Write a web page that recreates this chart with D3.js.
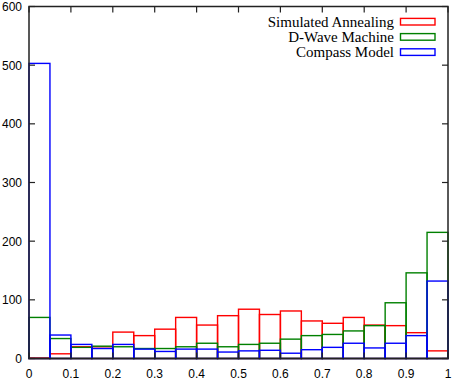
<!DOCTYPE html>
<html>
<head>
<meta charset="utf-8">
<script src="https://cdn.jsdelivr.net/npm/d3@7"></script>
<style>
  body { margin: 0; background: #fff; }
  svg { display: block; }
</style>
</head>
<body>
<div id="chart"></div>
<script>
// bin edges: 20 bins of width 0.05 from 0 to 1
const binStarts = [0, 0.05, 0.1, 0.15, 0.2, 0.25, 0.3, 0.35, 0.4, 0.45,
                   0.5, 0.55, 0.6, 0.65, 0.7, 0.75, 0.8, 0.85, 0.9, 0.95];
const binWidth = 0.05;

const seriesNames = ['Simulated Annealing', 'D-Wave Machine', 'Compass Model'];
const annealing = [1, 8, 20, 20, 45, 39, 50, 70, 57, 73, 84, 75, 81, 64, 60, 70, 57, 56, 44, 13];
const dwave     = [70, 34, 19, 21, 20, 17, 17, 20, 26, 20, 24, 26, 33, 39, 41, 47, 56, 95, 146, 215];
const compass   = [503, 40, 24, 17, 24, 16, 12, 16, 16, 11, 13, 14, 9, 15, 19, 26, 18, 26, 39, 132];

const xTicks = [0, 0.1, 0.2, 0.3, 0.4, 0.5, 0.6, 0.7, 0.8, 0.9, 1];
const yTicks = [0, 100, 200, 300, 400, 500, 600];

const colors = ['#ff0000', '#008000', '#0000ff'];

const width = 454, height = 380;
const margin = { top: 6.5, right: 6, bottom: 21.5, left: 29 };
const innerW = width - margin.left - margin.right;
const innerH = height - margin.top - margin.bottom;

const svg = d3.select('#chart').append('svg')
  .attr('width', width).attr('height', height);

const g = svg.append('g').attr('transform', `translate(${margin.left},${margin.top})`);

const x = d3.scaleLinear().domain([0, 1]).range([0, innerW]);
const y = d3.scaleLinear().domain([0, 600]).range([innerH, 0]);

// bars: outlined boxes, drawn in legend order so blue ends on top
[annealing, dwave, compass].forEach((vals, si) => {
  g.append('g').selectAll('rect')
    .data(vals.map((v, i) => ({ x0: binStarts[i], v })))
    .join('rect')
    .attr('x', (d) => x(d.x0))
    .attr('y', (d) => y(d.v))
    .attr('width', x(binWidth) - x(0))
    .attr('height', (d) => y(0) - y(d.v))
    .attr('fill', 'none')
    .attr('stroke', colors[si])
    .attr('stroke-width', 1.4);
});

// frame with inward ticks on all four sides
const tickLen = 6;
const frame = g.append('g').attr('stroke', '#222').attr('stroke-width', 1.2);
xTicks.forEach((t) => {
  frame.append('line').attr('x1', x(t)).attr('x2', x(t)).attr('y1', innerH).attr('y2', innerH - tickLen);
  frame.append('line').attr('x1', x(t)).attr('x2', x(t)).attr('y1', 0).attr('y2', tickLen);
});
yTicks.forEach((t) => {
  frame.append('line').attr('x1', 0).attr('x2', tickLen).attr('y1', y(t)).attr('y2', y(t));
  frame.append('line').attr('x1', innerW).attr('x2', innerW - tickLen).attr('y1', y(t)).attr('y2', y(t));
});
g.append('rect')
  .attr('x', 0).attr('y', 0).attr('width', innerW).attr('height', innerH)
  .attr('fill', 'none').attr('stroke', '#222').attr('stroke-width', 1.5);

// tick labels
g.append('g').selectAll('text').data(xTicks).join('text')
  .attr('x', (d) => x(d)).attr('y', innerH + 19)
  .attr('text-anchor', 'middle')
  .attr('font-family', 'Liberation Sans, Arial, sans-serif').attr('font-size', 12)
  .text((d) => d);
g.append('g').selectAll('text').data(yTicks).join('text')
  .attr('x', -7).attr('y', (d) => y(d) + 4.5)
  .attr('text-anchor', 'end')
  .attr('font-family', 'Liberation Sans, Arial, sans-serif').attr('font-size', 12)
  .text((d) => d);

// legend
const legend = svg.append('g');
seriesNames.forEach((name, i) => {
  const cy = 21.7 + i * 15.2;
  legend.append('text')
    .attr('x', 394).attr('y', cy + 5)
    .attr('text-anchor', 'end')
    .attr('font-family', 'Liberation Serif, Times New Roman, serif').attr('font-size', 15)
    .text(name);
  legend.append('rect')
    .attr('x', 400.5).attr('y', cy - 3.3).attr('width', 34.5).attr('height', 6.6)
    .attr('fill', 'none').attr('stroke', colors[i]).attr('stroke-width', 1.4);
});
</script>
</body>
</html>
